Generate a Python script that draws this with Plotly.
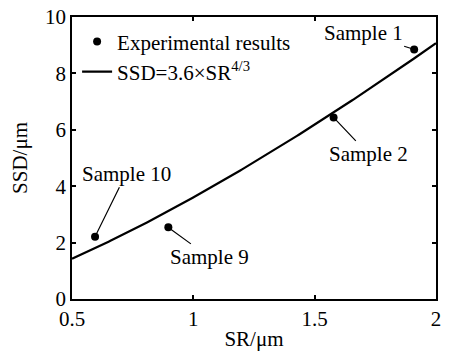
import numpy as np
import plotly.graph_objects as go

# Data
sample_names = ["Sample 1", "Sample 2", "Sample 9", "Sample 10"]
sr_exp = [1.91, 1.578, 0.897, 0.595]
ssd_exp = [8.85, 6.44, 2.54, 2.21]

fit_coef = 3.6
fit_exp = 4.0 / 3.0
sr_fit = np.linspace(0.5, 2.0, 200)
ssd_fit = fit_coef * sr_fit ** fit_exp

x_ticks = [0.5, 1, 1.5, 2]
x_ticklabels = ["0.5", "1", "1.5", "2"]
y_ticks = [0, 2, 4, 6, 8, 10]

# label offsets (pixels, text centre relative to point)
label_offsets = {"Sample 1": (-51, -16), "Sample 2": (35, 37),
                 "Sample 9": (41, 30), "Sample 10": (31, -63)}

FONT = "Liberation Serif, Times New Roman, serif"
FS = 21

fig = go.Figure()
fig.add_trace(go.Scatter(x=sr_exp, y=ssd_exp, mode="markers",
                         marker=dict(color="black", size=8),
                         name="Experimental results"))
fig.add_trace(go.Scatter(x=sr_fit, y=ssd_fit, mode="lines",
                         line=dict(color="black", width=2.2),
                         name="SSD=3.6×SR<sup>4/3</sup>"))

for name, x, y in zip(sample_names, sr_exp, ssd_exp):
    ax, ay = label_offsets[name]
    fig.add_annotation(x=x, y=y, text=name, showarrow=True, arrowhead=0,
                       arrowwidth=1.2, arrowcolor="black", ax=ax, ay=ay,
                       standoff=3, font=dict(family=FONT, size=FS, color="black"))

axis_common = dict(showline=True, linecolor="black", linewidth=1.8, mirror="allticks",
                   ticks="inside", ticklen=4, tickwidth=1.5, tickcolor="black",
                   showgrid=False, zeroline=False, automargin=False,
                   tickfont=dict(family=FONT, size=FS, color="black"))

fig.update_xaxes(range=[0.5, 2.0], tickvals=x_ticks, ticktext=x_ticklabels,
                 title=dict(text="SR/μm", font=dict(family=FONT, size=FS, color="black"), standoff=4),
                 **axis_common)
fig.update_yaxes(range=[0, 10], tickvals=y_ticks,
                 title=dict(text="SSD/μm", font=dict(family=FONT, size=FS, color="black"), standoff=12),
                 **axis_common)

fig.update_layout(width=449, height=351, margin=dict(l=72, r=13, t=17, b=52),
                  plot_bgcolor="white", paper_bgcolor="white",
                  font=dict(family=FONT, size=FS, color="black"),
                  legend=dict(x=0.014, y=0.985, xanchor="left", yanchor="top",
                              bgcolor="rgba(0,0,0,0)", borderwidth=0,
                              font=dict(family=FONT, size=FS, color="black"),
                              tracegroupgap=0, itemsizing="trace"),
                  showlegend=True)

fig.write_html("out.html")
